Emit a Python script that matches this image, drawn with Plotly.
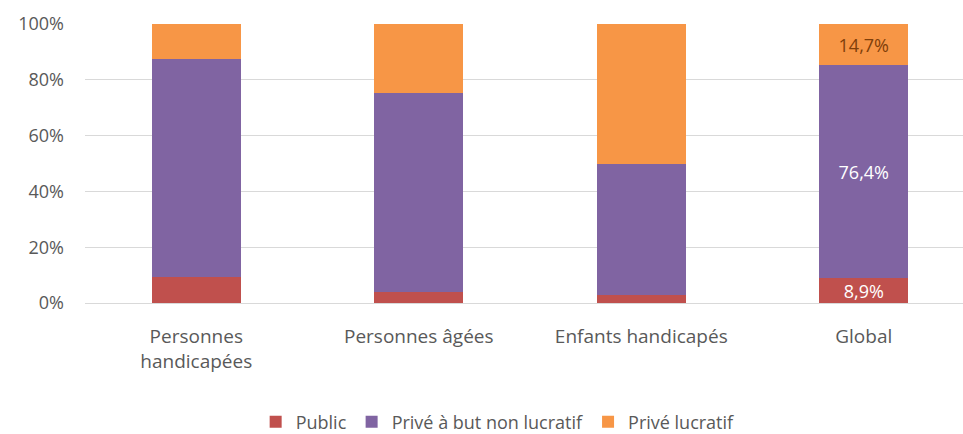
import plotly.graph_objects as go

categories = ["Personnes<br>handicapées", "Personnes âgées", "Enfants handicapés", "Global"]
public = [9.3, 4.0, 3.0, 8.9]
prive_non_lucratif = [78.2, 71.3, 47.0, 76.4]
prive_lucratif = [12.5, 24.7, 50.0, 14.7]
show_labels = [False, False, False, True]
series_names = ["Public", "Privé à but non lucratif", "Privé lucratif"]
colors = ["#C0504D", "#8064A2", "#F79646"]
label_colors = ["#FFFFFF", "#FFFFFF", "#7F3F0A"]

FONT = "Open Sans, Liberation Sans, Arial, sans-serif"

fig = go.Figure()
for name, vals, col, lc in zip(series_names, [public, prive_non_lucratif, prive_lucratif], colors, label_colors):
    txt = [(f"{v:.1f}".replace(".", ",") + "%") if s else "" for v, s in zip(vals, show_labels)]
    fig.add_trace(go.Bar(
        x=categories, y=vals, name=name,
        marker=dict(color=col, line=dict(width=0)),
        width=0.4,
        text=txt, textposition="inside", insidetextanchor="middle",
        constraintext="none", textangle=0,
        textfont=dict(color=lc, size=18, family=FONT),
        hoverinfo="skip",
    ))

fig.update_layout(
    barmode="stack",
    width=963, height=434,
    margin=dict(l=85, r=0, t=24, b=131, autoexpand=False),
    paper_bgcolor="white", plot_bgcolor="white",
    font=dict(family=FONT, color="#595959", size=18),
    showlegend=True,
    legend=dict(orientation="h", x=0.47, xanchor="center", y=-0.4265, yanchor="middle",
                font=dict(size=18, color="#595959"), traceorder="normal"),
    xaxis=dict(range=[-0.5, 3.446], showgrid=False, showline=False, ticks="",
               ticklabelstandoff=20, automargin=False,
               tickfont=dict(size=19, color="#595959"), fixedrange=True),
    yaxis=dict(range=[0, 100], tickvals=[0, 20, 40, 60, 80, 100],
               ticktext=["0%", "20%", "40%", "60%", "80%", "100%"],
               showgrid=True, gridcolor="#D9D9D9", gridwidth=1,
               zeroline=True, zerolinecolor="#D9D9D9", zerolinewidth=1,
               ticks="", ticklabelstandoff=20, automargin=False,
               tickfont=dict(size=18, color="#595959"), fixedrange=True),
)

fig.write_html("out.html")
